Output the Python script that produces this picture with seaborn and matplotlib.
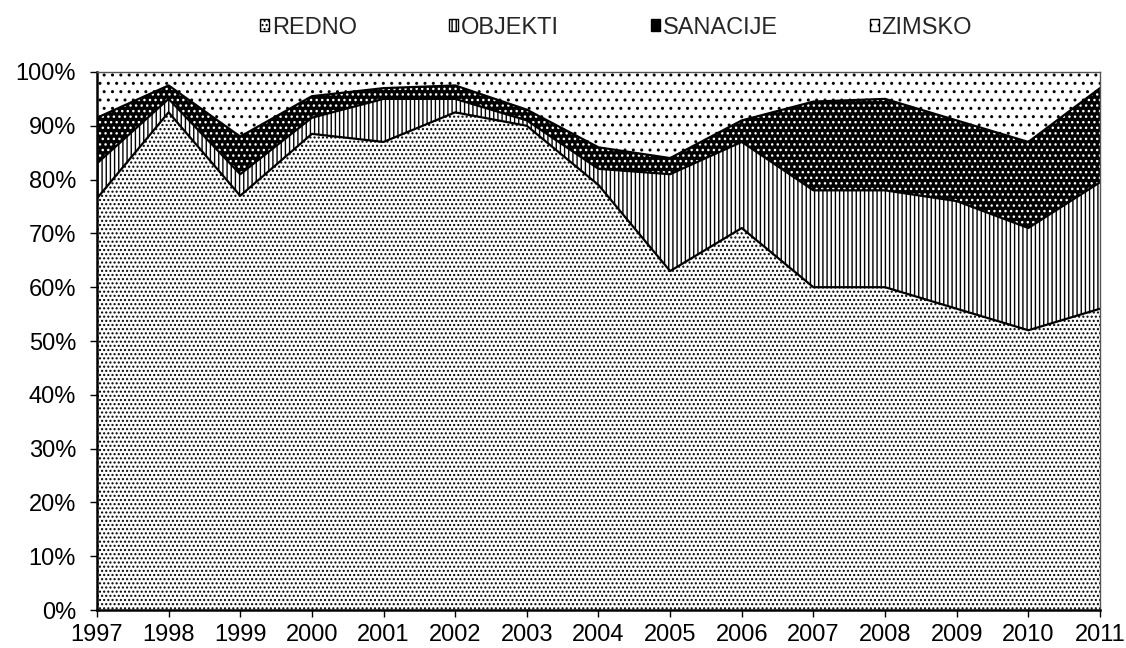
import numpy as np
import matplotlib
matplotlib.use("Agg")
import matplotlib.pyplot as plt
import matplotlib.patches as mpatches
from matplotlib.ticker import PercentFormatter
import seaborn as sns

# data (percent share per year)
years = [1997, 1998, 1999, 2000, 2001, 2002, 2003, 2004, 2005, 2006, 2007, 2008, 2009, 2010, 2011]
redno = [76.5, 92.5, 77.0, 88.5, 87.0, 92.5, 90.0, 79.0, 63.0, 71.0, 60.0, 60.0, 56.0, 52.0, 56.0]
objekti = [6.5, 2.5, 4.0, 3.0, 8.0, 2.5, 1.0, 3.0, 18.0, 16.0, 18.0, 18.0, 20.0, 19.0, 23.5]
sanacije = [8.5, 2.5, 7.0, 4.0, 2.0, 2.5, 2.0, 4.0, 3.0, 4.0, 16.5, 17.0, 15.0, 16.0, 17.5]
zimsko = [8.5, 2.5, 12.0, 4.5, 3.0, 2.5, 7.0, 14.0, 16.0, 9.0, 5.5, 5.0, 9.0, 13.0, 3.0]
labels = ["REDNO", "OBJEKTI", "SANACIJE", "ZIMSKO"]

sns.set_style("white")
plt.rcParams["font.family"] = ["Liberation Sans", "DejaVu Sans"]
plt.rcParams["hatch.linewidth"] = 1.0

fig = plt.figure(figsize=(11.26, 6.48), dpi=100)
ax = fig.add_axes([0.0861, 0.0586, 0.8908, 0.8303])

series = [redno, objekti, sanacije, zimsko]
faces = ["white", "white", "black", "white"]
edges = ["black", "black", "white", "black"]
hatches = ["....", "||||", "...", ".."]

polys = ax.stackplot(years, *series, colors=faces, linewidth=0)
for p, e, h in zip(polys, edges, hatches):
    p.set_edgecolor(e)
    p.set_hatch(h)
    p.set_linewidth(0)

# boundary lines between the layers
cum = np.cumsum(np.array(series), axis=0)
for row in cum[:-1]:
    ax.plot(years, row, color="black", lw=1.6)

ax.set_xlim(years[0], years[-1])
ax.set_ylim(0, 100)
ax.set_xticks(years)
ax.set_yticks(np.arange(0, 101, 10))
ax.yaxis.set_major_formatter(PercentFormatter(decimals=0))
ax.tick_params(axis="both", labelsize=17, direction="out", length=5, width=1, color="black",
               bottom=True, left=True, labelcolor="black")
ax.tick_params(axis="y", pad=10)
ax.tick_params(axis="x", pad=5)
for s in ax.spines.values():
    s.set_color("#555555")
    s.set_linewidth(1.0)
ax.spines["left"].set_color("black")
ax.spines["bottom"].set_color("black")
ax.spines["left"].set_linewidth(1.8)
ax.spines["bottom"].set_linewidth(1.8)

handles = [mpatches.Rectangle((0, 0), 1, 1, facecolor=f, edgecolor="black", hatch=h, linewidth=1)
           for f, h in zip(faces, hatches)]
fig.legend(handles, labels, loc="center", bbox_to_anchor=(0.547, 0.957), ncol=4, frameon=False,
           fontsize=17, handlelength=0.4, handleheight=0.4, handletextpad=0.1, columnspacing=3.9)

fig.savefig("out.png", dpi=100)
